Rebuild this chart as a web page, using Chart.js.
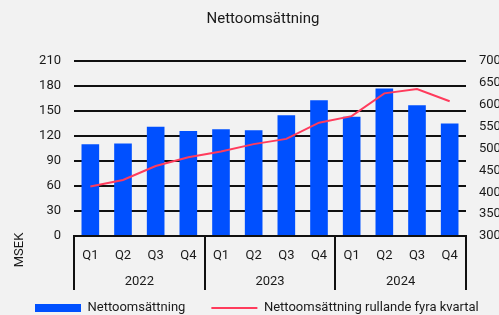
<!DOCTYPE html>
<html lang="sv">
<head>
<meta charset="UTF-8">
<title>Nettoomsättning</title>
<script src="https://cdn.jsdelivr.net/npm/chart.js"></script>
<style>
  html, body { margin: 0; padding: 0; background: #f2f2f2; }
  canvas { display: block; }
</style>
</head>
<body>
<canvas id="chartNetto" width="499" height="315"></canvas>
<script>
// data
const kvartal = ['Q1', 'Q2', 'Q3', 'Q4', 'Q1', 'Q2', 'Q3', 'Q4', 'Q1', 'Q2', 'Q3', 'Q4'];
const ar = ['2022', '2023', '2024'];
const netto = [110, 111, 131, 126, 128, 127, 145, 163, 143, 177, 157, 135];
const rullande = [413, 428, 460, 480, 493, 510, 522, 559, 574, 626, 636, 608];
const vansterAxel = [0, 210, 30];   // min, max, steg
const hogerAxel = [300, 700, 50];
const titel = 'Nettoomsättning';
const enhet = 'MSEK';

const textFarg = '#1a1a1a';
const typsnitt = 'Roboto';

// skiljelinjer mellan åren + MSEK-text
const extraRitning = {
  id: 'extraRitning',
  beforeUpdate(chart) {
    // legenden får gå utanför kanten som i originalet (ingen radbrytning)
    const lg = chart.legend;
    if (!lg || lg._ingenBrytning) return;
    const fit = lg.fit;
    const draw = lg.draw;
    lg.fit = function () {
      const mw = this.maxWidth;
      this.maxWidth = 2000;
      fit.call(this);
      this.maxWidth = mw;
      this.width = mw;
      this.height = 25;
    };
    lg.draw = function () {
      const r = this.right, t = this.top;
      this.right = 2000;
      this.top = t - 14.5;  // stor padding mellan posterna, men raden ska ligga högt
      draw.call(this);
      this.right = r;
      this.top = t;
    };
    lg._ingenBrytning = true;
  },
  afterDraw(chart) {
    const ctx = chart.ctx;
    const x = chart.scales.x;
    const bredd = (x.right - x.left) / ar.length;
    ctx.save();
    ctx.strokeStyle = '#111';
    ctx.lineWidth = 2;
    for (let i = 0; i <= ar.length; i++) {
      const px = Math.round(x.left + i * bredd);
      ctx.beginPath();
      ctx.moveTo(px, chart.chartArea.bottom);
      ctx.lineTo(px, chart.scales.x2.bottom);
      ctx.stroke();
    }
    ctx.translate(20, 250);
    ctx.rotate(-Math.PI / 2);
    ctx.fillStyle = textFarg;
    ctx.font = '13px ' + typsnitt;
    ctx.textAlign = 'center';
    ctx.textBaseline = 'middle';
    ctx.fillText(enhet, 0, 0);
    ctx.restore();
  }
};

const chart = new Chart(document.getElementById('chartNetto'), {
  data: {
    labels: kvartal,
    datasets: [
      {
        type: 'bar',
        label: 'Nettoomsättning',
        data: netto,
        backgroundColor: '#0050ff',
        borderWidth: 0,
        pointStyle: 'rect',
        categoryPercentage: 1,
        barPercentage: 0.54,
        yAxisID: 'y',
        order: 1
      },
      {
        type: 'line',
        label: 'Nettoomsättning rullande fyra kvartal',
        data: rullande,
        borderColor: '#ff3b5c',
        backgroundColor: '#ff3b5c',
        borderWidth: 2,
        pointRadius: 0,
        pointStyle: 'line',
        tension: 0,
        yAxisID: 'y1',
        order: 0
      }
    ]
  },
  options: {
    responsive: false,
    animation: false,
    layout: { padding: { left: 9, right: -18, top: 0, bottom: 0 } },
    plugins: {
      title: {
        display: true,
        text: titel,
        color: textFarg,
        font: { family: typsnitt, size: 15, weight: 'normal' },
        padding: { top: 10, bottom: 33 }
      },
      legend: {
        position: 'bottom',
        align: 'start',
        labels: {
          usePointStyle: true,
          pointStyleWidth: 46,
          boxHeight: 8,
          padding: 26,
          color: textFarg,
          font: { family: typsnitt, size: 13 },
          sort: (a, b) => a.datasetIndex - b.datasetIndex
        }
      },
      tooltip: { enabled: false }
    },
    scales: {
      x: {
        grid: { display: false, drawTicks: false },
        border: { display: true, color: '#111', width: 2 },
        ticks: { color: textFarg, font: { family: typsnitt, size: 13 }, padding: 12, maxRotation: 0 },
        afterFit: s => { s.height = 28; }
      },
      x2: {
        type: 'category',
        position: 'bottom',
        labels: ar,
        offset: true,
        weight: 1,
        grid: { display: false, drawTicks: false },
        border: { display: false },
        ticks: { color: textFarg, font: { family: typsnitt, size: 13 }, padding: 10, maxRotation: 0 },
        afterFit: s => { s.height = 26; }
      },
      y: {
        position: 'left',
        min: vansterAxel[0],
        max: vansterAxel[1],
        ticks: { stepSize: vansterAxel[2], color: textFarg, font: { family: typsnitt, size: 13 }, padding: 13 },
        grid: { color: '#111', lineWidth: 2, drawTicks: false },
        border: { display: false },
        afterFit: s => { s.width = 65; }
      },
      y1: {
        position: 'right',
        min: hogerAxel[0],
        max: hogerAxel[1],
        ticks: { stepSize: hogerAxel[2], color: textFarg, font: { family: typsnitt, size: 13 }, padding: 13 },
        grid: { drawOnChartArea: false, drawTicks: false },
        border: { display: false },
        afterFit: s => { s.width = 51; }
      }
    }
  },
  plugins: [extraRitning]
});
</script>
</body>
</html>
